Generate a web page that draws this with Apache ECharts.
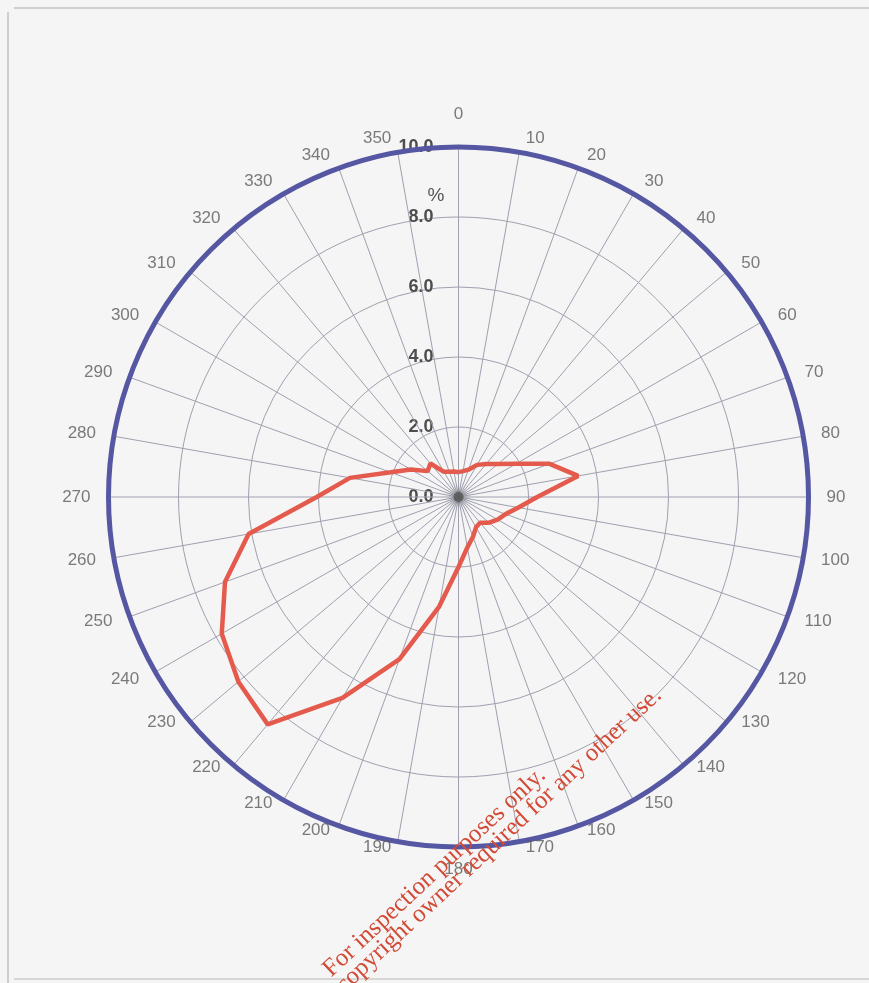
<!DOCTYPE html>
<html>
<head>
<meta charset="utf-8">
<title>Wind direction frequency</title>
<script src="https://cdn.jsdelivr.net/npm/echarts@6/dist/echarts.min.js"></script>
<style>
  html, body { margin: 0; padding: 0; background: #f5f5f5; }
  #chart { width: 869px; height: 983px; }
</style>
</head>
<body>
<div id="chart"></div>
<script>
// Compass directions (degrees, clockwise from north)
const directions = [0, 10, 20, 30, 40, 50, 60, 70, 80, 90, 100, 110, 120, 130, 140, 150, 160, 170,
                    180, 190, 200, 210, 220, 230, 240, 250, 260, 270, 280, 290, 300, 310, 320, 330, 340, 350];
// Frequency of occurrence per direction (%)
const frequency = [0.71, 0.75, 0.83, 1.06, 1.23, 1.47, 1.90, 2.77, 3.47, 2.25, 1.74, 1.43, 1.29, 1.14, 0.96, 1.00, 1.21, 1.46,
                   2.00, 3.18, 4.93, 6.63, 8.48, 8.21, 7.81, 7.10, 6.09, 4.05, 3.15, 2.06, 1.57, 1.15, 1.25, 0.83, 0.77, 0.74];
// Radial scale
const radiusMax = 10;
const radiusStep = 2;
const unitLabel = '%';
const noticeLines = ['For inspection purposes only.', 'Consent of copyright owner required for any other use.'];

// Closed rose outline: [radius, angle] pairs, first point repeated at the end
const rosePoints = directions.map((d, i) => [frequency[i], d]);
rosePoints.push([frequency[0], directions[0]]);

// Direction labels sit just outside the rim, anchored on their inner side
const labelRadius = radiusMax * 1.04;
function labelStyle(d) {
  let align = 'center';
  let padding = [0, 0, 0, 0];
  if (d > 0 && d < 180) { align = 'left'; padding = [0, 0, 0, 4]; }
  if (d > 180) { align = 'right'; padding = [0, 4, 0, 0]; }
  let vAlign = 'middle';
  if (d === 0) { vAlign = 'bottom'; padding = [0, 0, 10, 0]; }
  else if (d === 180) vAlign = 'top';
  else if ((d >= 130 && d <= 170) || (d >= 190 && d <= 230)) vAlign = 'bottom';
  return { align: align, verticalAlign: vAlign, padding: padding };
}
const directionLabels = directions.map(d => ({
  value: [labelRadius, d],
  name: String(d),
  label: labelStyle(d)
}));

const chart = echarts.init(document.getElementById('chart'), null, { renderer: 'canvas' });

const gridColor = '#a0a0b0';
const cx = 458.5, cy = 497, R = 350;

chart.setOption({
  backgroundColor: '#f5f5f5',
  animation: false,
  polar: { center: [cx, cy], radius: R },
  angleAxis: {
    type: 'value',
    min: 0,
    max: 360,
    interval: 10,
    startAngle: 90,
    clockwise: true,
    z: 3,
    axisLine: { show: true, lineStyle: { color: '#5557a3', width: 5 } },
    axisTick: { show: false },
    axisLabel: { show: false },
    splitLine: { show: true, lineStyle: { color: gridColor, width: 1 } }
  },
  radiusAxis: {
    type: 'value',
    min: 0,
    max: radiusMax,
    interval: radiusStep,
    z: 1,
    axisLine: { show: false },
    axisTick: { show: false },
    axisLabel: {
      show: true,
      margin: 25,
      color: '#4d4d4d',
      fontSize: 18,
      fontWeight: 'bold',
      fontFamily: 'Liberation Sans, Arial, sans-serif',
      formatter: v => v.toFixed(1)
    },
    splitLine: { show: true, lineStyle: { color: gridColor, width: 1 } }
  },
  graphic: [
    // page frame
    { type: 'line', shape: { x1: 14, y1: 8, x2: 869, y2: 8 }, style: { stroke: '#cfcfcf', lineWidth: 2 }, silent: true },
    { type: 'line', shape: { x1: 8, y1: 12, x2: 8, y2: 983 }, style: { stroke: '#cfcfcf', lineWidth: 2 }, silent: true },
    { type: 'line', shape: { x1: 14, y1: 979, x2: 869, y2: 979 }, style: { stroke: '#d6d6d6', lineWidth: 2 }, silent: true },
    // unit of the radial scale
    { type: 'text', x: 436, y: 196, style: { text: unitLabel, fill: '#555', font: '19px Liberation Sans, Arial, sans-serif', textAlign: 'center', textVerticalAlign: 'middle' }, z: 10 },
    // overlay notice
    { type: 'text', x: 542, y: 772, rotation: Math.PI * 43 / 180,
      style: { text: noticeLines[0], fill: '#d24a35', font: '25px Liberation Serif, serif', textAlign: 'right', textVerticalAlign: 'middle' }, z: 20, silent: true },
    { type: 'text', x: 658, y: 692, rotation: Math.PI * 43 / 180,
      style: { text: noticeLines[1], fill: '#d24a35', font: '25px Liberation Serif, serif', textAlign: 'right', textVerticalAlign: 'middle' }, z: 20, silent: true }
  ],
  series: [
    {
      // hub where the spokes meet
      type: 'scatter',
      coordinateSystem: 'polar',
      data: [[0, 0]],
      symbol: 'circle',
      symbolSize: 10,
      silent: true,
      itemStyle: { color: '#555', shadowBlur: 8, shadowColor: 'rgba(60,60,60,0.9)' },
      z: 4
    },
    {
      type: 'line',
      coordinateSystem: 'polar',
      data: rosePoints,
      symbol: 'none',
      smooth: false,
      lineStyle: { color: '#e45a4c', width: 4.5 },
      z: 10
    },
    {
      // compass direction labels
      type: 'scatter',
      coordinateSystem: 'polar',
      data: directionLabels,
      clip: false,
      symbol: 'circle',
      symbolSize: 1,
      silent: true,
      itemStyle: { color: 'rgba(0,0,0,0)' },
      label: {
        show: true,
        position: 'inside',
        formatter: p => p.name,
        color: '#5a5a5a',
        fontSize: 17,
        fontFamily: 'Liberation Sans, Arial, sans-serif'
      },
      z: 6
    }
  ]
});
</script>
</body>
</html>
